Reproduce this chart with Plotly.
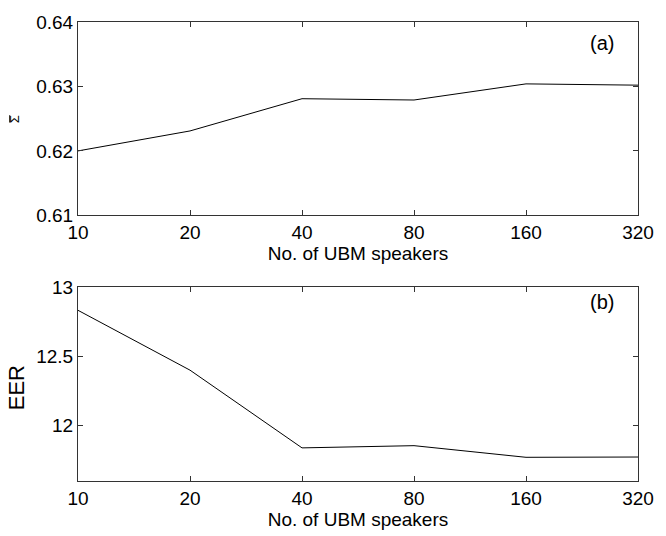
import plotly.graph_objects as go
from plotly.subplots import make_subplots

ubm_speakers = [10, 20, 40, 80, 160, 320]
sigma_bar = [0.6200, 0.6231, 0.6281, 0.6279, 0.6304, 0.6302]
eer = [12.832, 12.40, 11.839, 11.855, 11.771, 11.773]
x_ticks = [10, 20, 40, 80, 160, 320]
y1_ticks = [0.61, 0.62, 0.63, 0.64]
y2_ticks = [12, 12.5, 13]

fig = make_subplots(rows=2, cols=1)
fig.add_trace(go.Scatter(x=ubm_speakers, y=sigma_bar, mode="lines",
                         line=dict(color="black", width=1), showlegend=False), row=1, col=1)
fig.add_trace(go.Scatter(x=ubm_speakers, y=eer, mode="lines",
                         line=dict(color="black", width=1), showlegend=False), row=2, col=1)

FAM = "Liberation Sans, Arial, Helvetica, sans-serif"
font = dict(family=FAM, size=19, color="black")
axis_common = dict(showgrid=False, zeroline=False, showline=True, linecolor="#333",
                   linewidth=1, mirror="ticks", ticks="inside", ticklen=5,
                   tickcolor="#333", tickfont=font)

fig.update_xaxes(type="log", range=[1, 2.50515], tickvals=x_ticks,
                 ticktext=[str(v) for v in x_ticks],
                 title=dict(text="No. of UBM speakers", font=font, standoff=2),
                 **axis_common)
fig.update_yaxes(range=[0.61, 0.64], tickvals=y1_ticks,
                 ticktext=["0.61", "0.62", "0.63", "0.64"],
                 row=1, col=1, **axis_common)
fig.update_yaxes(range=[11.6, 13], tickvals=y2_ticks,
                 ticktext=["12", "12.5", "13"],
                 row=2, col=1, **axis_common)

fig.update_layout(
    width=666, height=536,
    margin=dict(l=78, r=18, t=13, b=53),
    paper_bgcolor="white", plot_bgcolor="white",
    xaxis=dict(domain=[0, 1]), yaxis=dict(domain=[0.5787, 1]),
    xaxis2=dict(domain=[0, 1]), yaxis2=dict(domain=[0, 0.4226]),
    font=font,
)
# y-axis titles
fig.add_annotation(text="\u03a3", xref="paper", yref="paper", x=-0.112, y=0.789,
                   showarrow=False, textangle=-90,
                   font=dict(family=FAM, size=13, color="black"),
                   xanchor="center", yanchor="middle")
# overbar of the Sigma (rotated with the label)
fig.add_shape(type="line", xref="paper", yref="paper",
              x0=-0.1219, x1=-0.1219, y0=0.781, y1=0.797,
              line=dict(color="black", width=1))
fig.add_annotation(text="EER", xref="paper", yref="y2 domain", x=-0.11, y=0.48,
                   showarrow=False, textangle=-90,
                   font=dict(family=FAM, size=22, color="black"),
                   xanchor="center", yanchor="middle")
fig.add_annotation(text="(a)", xref="x domain", yref="y domain", x=0.935, y=0.889,
                   showarrow=False, font=dict(family=FAM, size=20, color="black"),
                   xanchor="center", yanchor="middle")
fig.add_annotation(text="(b)", xref="x2 domain", yref="y2 domain", x=0.935, y=0.921,
                   showarrow=False, font=dict(family=FAM, size=20, color="black"),
                   xanchor="center", yanchor="middle")

fig.write_html("out.html")
